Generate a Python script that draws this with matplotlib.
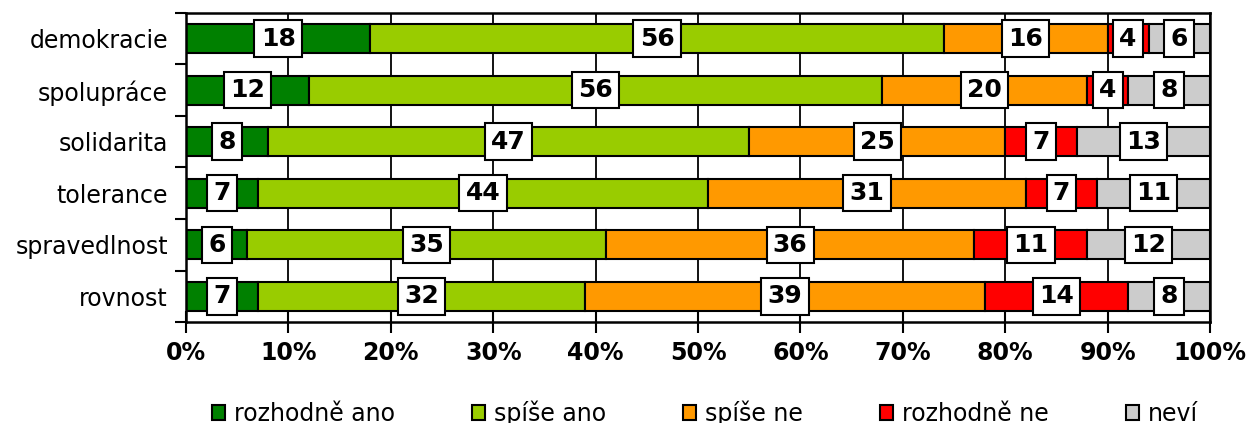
import matplotlib
matplotlib.use("Agg")
import matplotlib.pyplot as plt
import numpy as np

# data
kategorie = ["demokracie", "spolupráce", "solidarita", "tolerance", "spravedlnost", "rovnost"]
odpovedi = ["rozhodně ano", "spíše ano", "spíše ne", "rozhodně ne", "neví"]
rozhodne_ano = [18, 12, 8, 7, 6, 7]
spise_ano = [56, 56, 47, 44, 35, 32]
spise_ne = [16, 20, 25, 31, 36, 39]
rozhodne_ne = [4, 4, 7, 7, 11, 14]
nevi = [6, 8, 13, 11, 12, 8]
barvy = ["#008000", "#99CC00", "#FF9900", "#FF0000", "#CCCCCC"]
x_popisky = ["0%", "10%", "20%", "30%", "40%", "50%", "60%", "70%", "80%", "90%", "100%"]

serie = [rozhodne_ano, spise_ano, spise_ne, rozhodne_ne, nevi]

fig = plt.figure(figsize=(12.49, 4.23), dpi=100)
ax = fig.add_axes([186 / 1249, 1 - 322 / 423, 1024 / 1249, 309 / 423])

y = np.arange(len(kategorie))
left = np.zeros(len(kategorie))
handles = []
for vals, col, name in zip(serie, barvy, odpovedi):
    vals = np.array(vals, dtype=float) / 100.0
    b = ax.barh(y, vals, left=left, height=0.56, color=col, edgecolor="black",
                linewidth=1.5, zorder=2, label=name)
    handles.append(b)
    for yi, l, v, raw in zip(y, left, vals, vals * 100):
        ax.text(l + v / 2, yi, "%d" % round(raw), ha="center", va="center",
                fontsize=18, fontweight="bold", zorder=5,
                bbox=dict(boxstyle="square,pad=0.25", fc="white", ec="black", lw=1.5))
    left += vals

ax.set_xlim(0, 1)
ax.set_ylim(len(kategorie) - 0.5, -0.5)
ax.set_xticks(np.linspace(0, 1, 11))
ax.set_xticklabels(x_popisky, fontsize=17, fontweight="bold")
ax.tick_params(axis="x", direction="inout", length=16, width=1.5, pad=6)

ax.set_yticks(y)
ax.set_yticklabels(kategorie, fontsize=17)
ax.set_yticks(np.arange(-0.5, len(kategorie)), minor=True)
ax.tick_params(axis="y", which="major", length=0, pad=13)
ax.tick_params(axis="y", which="minor", length=8, width=1.5, direction="out")

ax.grid(axis="x", color="black", linewidth=1.3, zorder=0)
ax.set_axisbelow(True)
for s in ax.spines.values():
    s.set_linewidth(1.8)

fig.legend(handles=handles, labels=odpovedi, loc="center", ncol=5,
           bbox_to_anchor=(705 / 1249, 1 - 413 / 423), frameon=False,
           fontsize=17, handlelength=0.55, handleheight=0.55,
           handletextpad=0.4, columnspacing=3.25, borderpad=0)

fig.savefig("out.png", dpi=100)
